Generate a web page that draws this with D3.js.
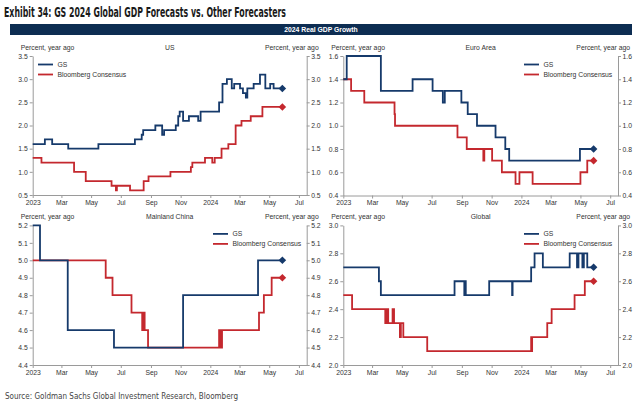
<!DOCTYPE html>
<html><head><meta charset="utf-8">
<script src="https://cdn.jsdelivr.net/npm/d3@7"></script>
<style>
body{margin:0;background:#fff}
svg text{font-family:"Liberation Sans",Arial,sans-serif}
</style>
</head><body>
<svg id="c" width="640" height="403"></svg>
<script>
// ---------- DATA ----------
const titleText = "Exhibit 34: GS 2024 Global GDP Forecasts vs. Other Forecasters";
const headerText = "2024 Real GDP Growth";
const sourceText = "Source: Goldman Sachs Global Investment Research, Bloomberg";
const axisUnit = "Percent, year ago";
const seriesNames = ["GS", "Bloomberg Consensus"];
const panelNames = ["US", "Euro Area", "Mainland China", "Global"];

const xTickDates = ["2023-01-01","2023-03-01","2023-05-01","2023-07-01","2023-09-01","2023-11-01","2024-01-01","2024-03-01","2024-05-01","2024-07-01"];
const xTickLabels = ["2023","Mar","May","Jul","Sep","Nov","2024","Mar","May","Jul"];

const usYTicks = [0.5,1.0,1.5,2.0,2.5,3.0,3.5];
const euroYTicks = [0.4,0.6,0.8,1.0,1.2,1.4,1.6];
const chinaYTicks = [4.4,4.5,4.6,4.7,4.8,4.9,5.0,5.1,5.2];
const globalYTicks = [2.0,2.2,2.4,2.6,2.8,3.0];

const usGS = [["2023-01-01",1.6],["2023-01-26",1.7],["2023-02-10",1.6],["2023-03-15",1.5],["2023-05-16",1.6],["2023-07-30",1.7],["2023-08-13",1.8],["2023-08-16",1.9],["2023-09-10",2.0],["2023-09-24",1.8],["2023-09-28",1.9],["2023-10-22",2.0],["2023-10-27",2.2],["2023-10-30",2.3],["2023-11-06",2.1],["2023-11-18",2.2],["2023-12-07",2.1],["2023-12-12",2.3],["2024-01-19",2.5],["2024-01-26",2.9],["2024-02-04",3.0],["2024-02-14",2.8],["2024-02-19",2.9],["2024-03-02",2.8],["2024-03-08",2.7],["2024-03-14",2.6],["2024-03-17",2.8],["2024-03-30",2.9],["2024-04-12",3.1],["2024-04-23",2.8],["2024-05-03",2.9],["2024-05-10",2.8],["2024-05-28",2.8]];
const usBloomberg = [["2023-01-01",1.3],["2023-01-19",1.2],["2023-03-27",1.0],["2023-04-20",0.8],["2023-06-12",0.7],["2023-06-21",0.6],["2023-06-23",0.7],["2023-07-20",0.6],["2023-08-17",0.8],["2023-08-27",0.9],["2023-10-11",1.0],["2023-11-22",1.1],["2023-11-25",1.2],["2023-12-21",1.3],["2024-01-05",1.2],["2024-01-10",1.3],["2024-01-24",1.5],["2024-02-07",1.6],["2024-02-22",2.0],["2024-03-05",2.1],["2024-03-24",2.2],["2024-04-17",2.4],["2024-05-28",2.4]];

const euroGS = [["2023-01-01",1.4],["2023-01-08",1.6],["2023-03-19",1.3],["2023-05-23",1.4],["2023-07-03",1.3],["2023-07-24",1.2],["2023-07-28",1.3],["2023-08-31",1.2],["2023-09-13",1.1],["2023-10-02",1.0],["2023-11-09",0.9],["2023-11-29",0.8],["2023-12-07",0.7],["2024-04-30",0.8],["2024-05-28",0.8]];
const euroBloomberg = [["2023-01-01",1.4],["2023-01-17",1.3],["2023-02-13",1.2],["2023-04-16",1.1],["2023-04-17",1.0],["2023-08-23",0.9],["2023-09-11",0.8],["2023-10-15",0.7],["2023-10-17",0.8],["2023-11-02",0.7],["2023-11-22",0.6],["2023-12-20",0.5],["2023-12-28",0.6],["2024-01-24",0.5],["2024-05-01",0.6],["2024-05-15",0.7],["2024-05-28",0.7]];

const chinaGS = [["2023-01-01",5.2],["2023-01-16",5.0],["2023-03-14",4.6],["2023-06-17",4.5],["2023-11-06",4.8],["2024-04-08",5.0],["2024-05-28",5.0]];
const chinaBloomberg = [["2023-01-01",5.0],["2023-05-31",4.9],["2023-06-14",4.8],["2023-07-23",4.7],["2023-08-14",4.6],["2023-08-15",4.7],["2023-08-17",4.6],["2023-08-18",4.7],["2023-08-19",4.6],["2023-08-26",4.5],["2024-01-19",4.6],["2024-01-22",4.5],["2024-01-25",4.6],["2024-04-10",4.7],["2024-04-20",4.8],["2024-05-06",4.9],["2024-05-28",4.9]];

const globalGS = [["2023-01-01",2.7],["2023-03-15",2.6],["2023-03-19",2.5],["2023-08-17",2.6],["2023-09-06",2.5],["2023-09-07",2.6],["2023-09-09",2.5],["2023-10-27",2.6],["2023-12-13",2.5],["2023-12-14",2.6],["2024-01-21",2.7],["2024-01-28",2.8],["2024-02-14",2.7],["2024-04-09",2.8],["2024-04-24",2.7],["2024-04-27",2.8],["2024-05-05",2.7],["2024-05-08",2.8],["2024-05-15",2.7],["2024-05-28",2.7]];
const globalBloomberg = [["2023-01-01",2.5],["2023-01-19",2.4],["2023-03-28",2.3],["2023-03-31",2.4],["2023-04-03",2.3],["2023-04-12",2.4],["2023-04-15",2.3],["2023-04-27",2.2],["2023-04-29",2.3],["2023-05-04",2.2],["2023-06-22",2.1],["2024-01-21",2.2],["2024-01-22",2.1],["2024-01-23",2.2],["2024-02-23",2.3],["2024-03-03",2.4],["2024-04-19",2.5],["2024-05-10",2.6],["2024-05-28",2.6]];

// ---------- LAYOUT / STYLE ----------
const colors = ["#163a6b", "#c4282e"];
const parse = d3.timeParse("%Y-%m-%d");
const xDomain = [parse("2023-01-01"), parse("2024-07-17")];
const FS = 6.8;

const panels = [
  {name: panelNames[0], x0: 32.7, x1: 306.7, top: 56, bottom: 195, yDom: [0.5,3.5], ticks: usYTicks, series: [usGS, usBloomberg], legX: 38},
  {name: panelNames[1], x0: 343.3, x1: 618, top: 56, bottom: 195.5, yDom: [0.4,1.6], ticks: euroYTicks, series: [euroGS, euroBloomberg], legX: 524},
  {name: panelNames[2], x0: 32.7, x1: 306.7, top: 225.4, bottom: 365, yDom: [4.4,5.2], ticks: chinaYTicks, series: [chinaGS, chinaBloomberg], legX: 213},
  {name: panelNames[3], x0: 343.3, x1: 618, top: 225.4, bottom: 365, yDom: [2.0,3.0], ticks: globalYTicks, series: [globalGS, globalBloomberg], legX: 524}
];

const svg = d3.select("#c");
svg.append("rect").attr("width",640).attr("height",403).attr("fill","#fff");

// Title
svg.append("text").attr("x",4).attr("y",17)
  .attr("textLength",282).attr("lengthAdjust","spacingAndGlyphs")
  .style("font-family","'Liberation Sans Narrow','DejaVu Sans Condensed',sans-serif")
  .style("font-weight","bold").style("font-size","13.5px").attr("fill","#1a1a1a")
  .text(titleText);

// Header bar
svg.append("rect").attr("x",10).attr("y",24).attr("width",622).attr("height",11).attr("fill","#0d2d52");
svg.append("text").attr("x",321).attr("y",29.5).attr("dy","0.35em").attr("text-anchor","middle")
  .style("font-size",FS+"px").style("font-weight","bold").attr("fill","#fff").text(headerText);

// Source
svg.append("text").attr("x",5).attr("y",398.5)
  .attr("textLength",233).attr("lengthAdjust","spacingAndGlyphs")
  .style("font-family","'Liberation Sans Narrow','DejaVu Sans Condensed',sans-serif")
  .style("font-size","9.5px").attr("fill","#444").text(sourceText);

const xTicks = xTickDates.map(parse);

panels.forEach(p => {
  const x = d3.scaleTime().domain(xDomain).range([p.x0, p.x1]);
  const y = d3.scaleLinear().domain(p.yDom).range([p.bottom, p.top]);
  const g = svg.append("g");
  const fmt = d3.format(".1f");

  const styleAxis = sel => {
    sel.selectAll("path.domain").attr("stroke","#9a9a9a").attr("stroke-width",1);
    sel.selectAll(".tick line").attr("stroke","#9a9a9a");
    sel.selectAll("text").style("font-size",FS+"px").attr("fill","#333")
      .style("font-family","'Liberation Sans',Arial,sans-serif");
  };

  g.append("g").attr("transform",`translate(0,${p.bottom})`)
    .call(d3.axisBottom(x).tickValues(xTicks).tickFormat((d,i)=>xTickLabels[i]).tickSize(3).tickSizeOuter(0).tickPadding(2))
    .call(styleAxis);
  g.append("g").attr("transform",`translate(${p.x0},0)`)
    .call(d3.axisLeft(y).tickValues(p.ticks).tickFormat(fmt).tickSize(3).tickSizeOuter(0).tickPadding(2))
    .call(styleAxis);
  g.append("g").attr("transform",`translate(${p.x1},0)`)
    .call(d3.axisRight(y).tickValues(p.ticks).tickFormat(fmt).tickSize(3).tickSizeOuter(0).tickPadding(1.5))
    .call(styleAxis);

  // labels
  const ly = p.top - 8.5;
  g.append("text").attr("x",p.x0-12).attr("y",ly).attr("dy","0.35em")
    .style("font-size",FS+"px").attr("fill","#333").text(axisUnit);
  g.append("text").attr("x",p.x1+12).attr("y",ly).attr("dy","0.35em").attr("text-anchor","end")
    .style("font-size",FS+"px").attr("fill","#333").text(axisUnit);
  g.append("text").attr("x",(p.x0+p.x1)/2).attr("y",ly).attr("dy","0.35em").attr("text-anchor","middle")
    .style("font-size",FS+"px").attr("fill","#333").text(p.name);

  const line = d3.line().x(d=>x(parse(d[0]))).y(d=>y(d[1])).curve(d3.curveStepAfter);
  // draw Bloomberg first then GS on top
  [1,0].forEach(si => {
    const data = p.series[si];
    g.append("path").datum(data).attr("d",line).attr("fill","none")
      .attr("stroke",colors[si]).attr("stroke-width",1.8).attr("stroke-linejoin","miter");
    const last = data[data.length-1];
    const cx = x(parse(last[0])), cy = y(last[1]), r = 3.8;
    g.append("path").attr("d",`M${cx-r},${cy}L${cx},${cy-r}L${cx+r},${cy}L${cx},${cy+r}Z`).attr("fill",colors[si]);
  });

  // legend
  seriesNames.forEach((nm,i) => {
    const yy = p.top + 8.5 + i*10;
    g.append("line").attr("x1",p.legX).attr("x2",p.legX+15).attr("y1",yy).attr("y2",yy)
      .attr("stroke",colors[i]).attr("stroke-width",1.8);
    g.append("text").attr("x",p.legX+19.5).attr("y",yy).attr("dy","0.35em")
      .style("font-size",FS+"px").attr("fill","#333").text(nm);
  });
});
</script>
</body></html>
